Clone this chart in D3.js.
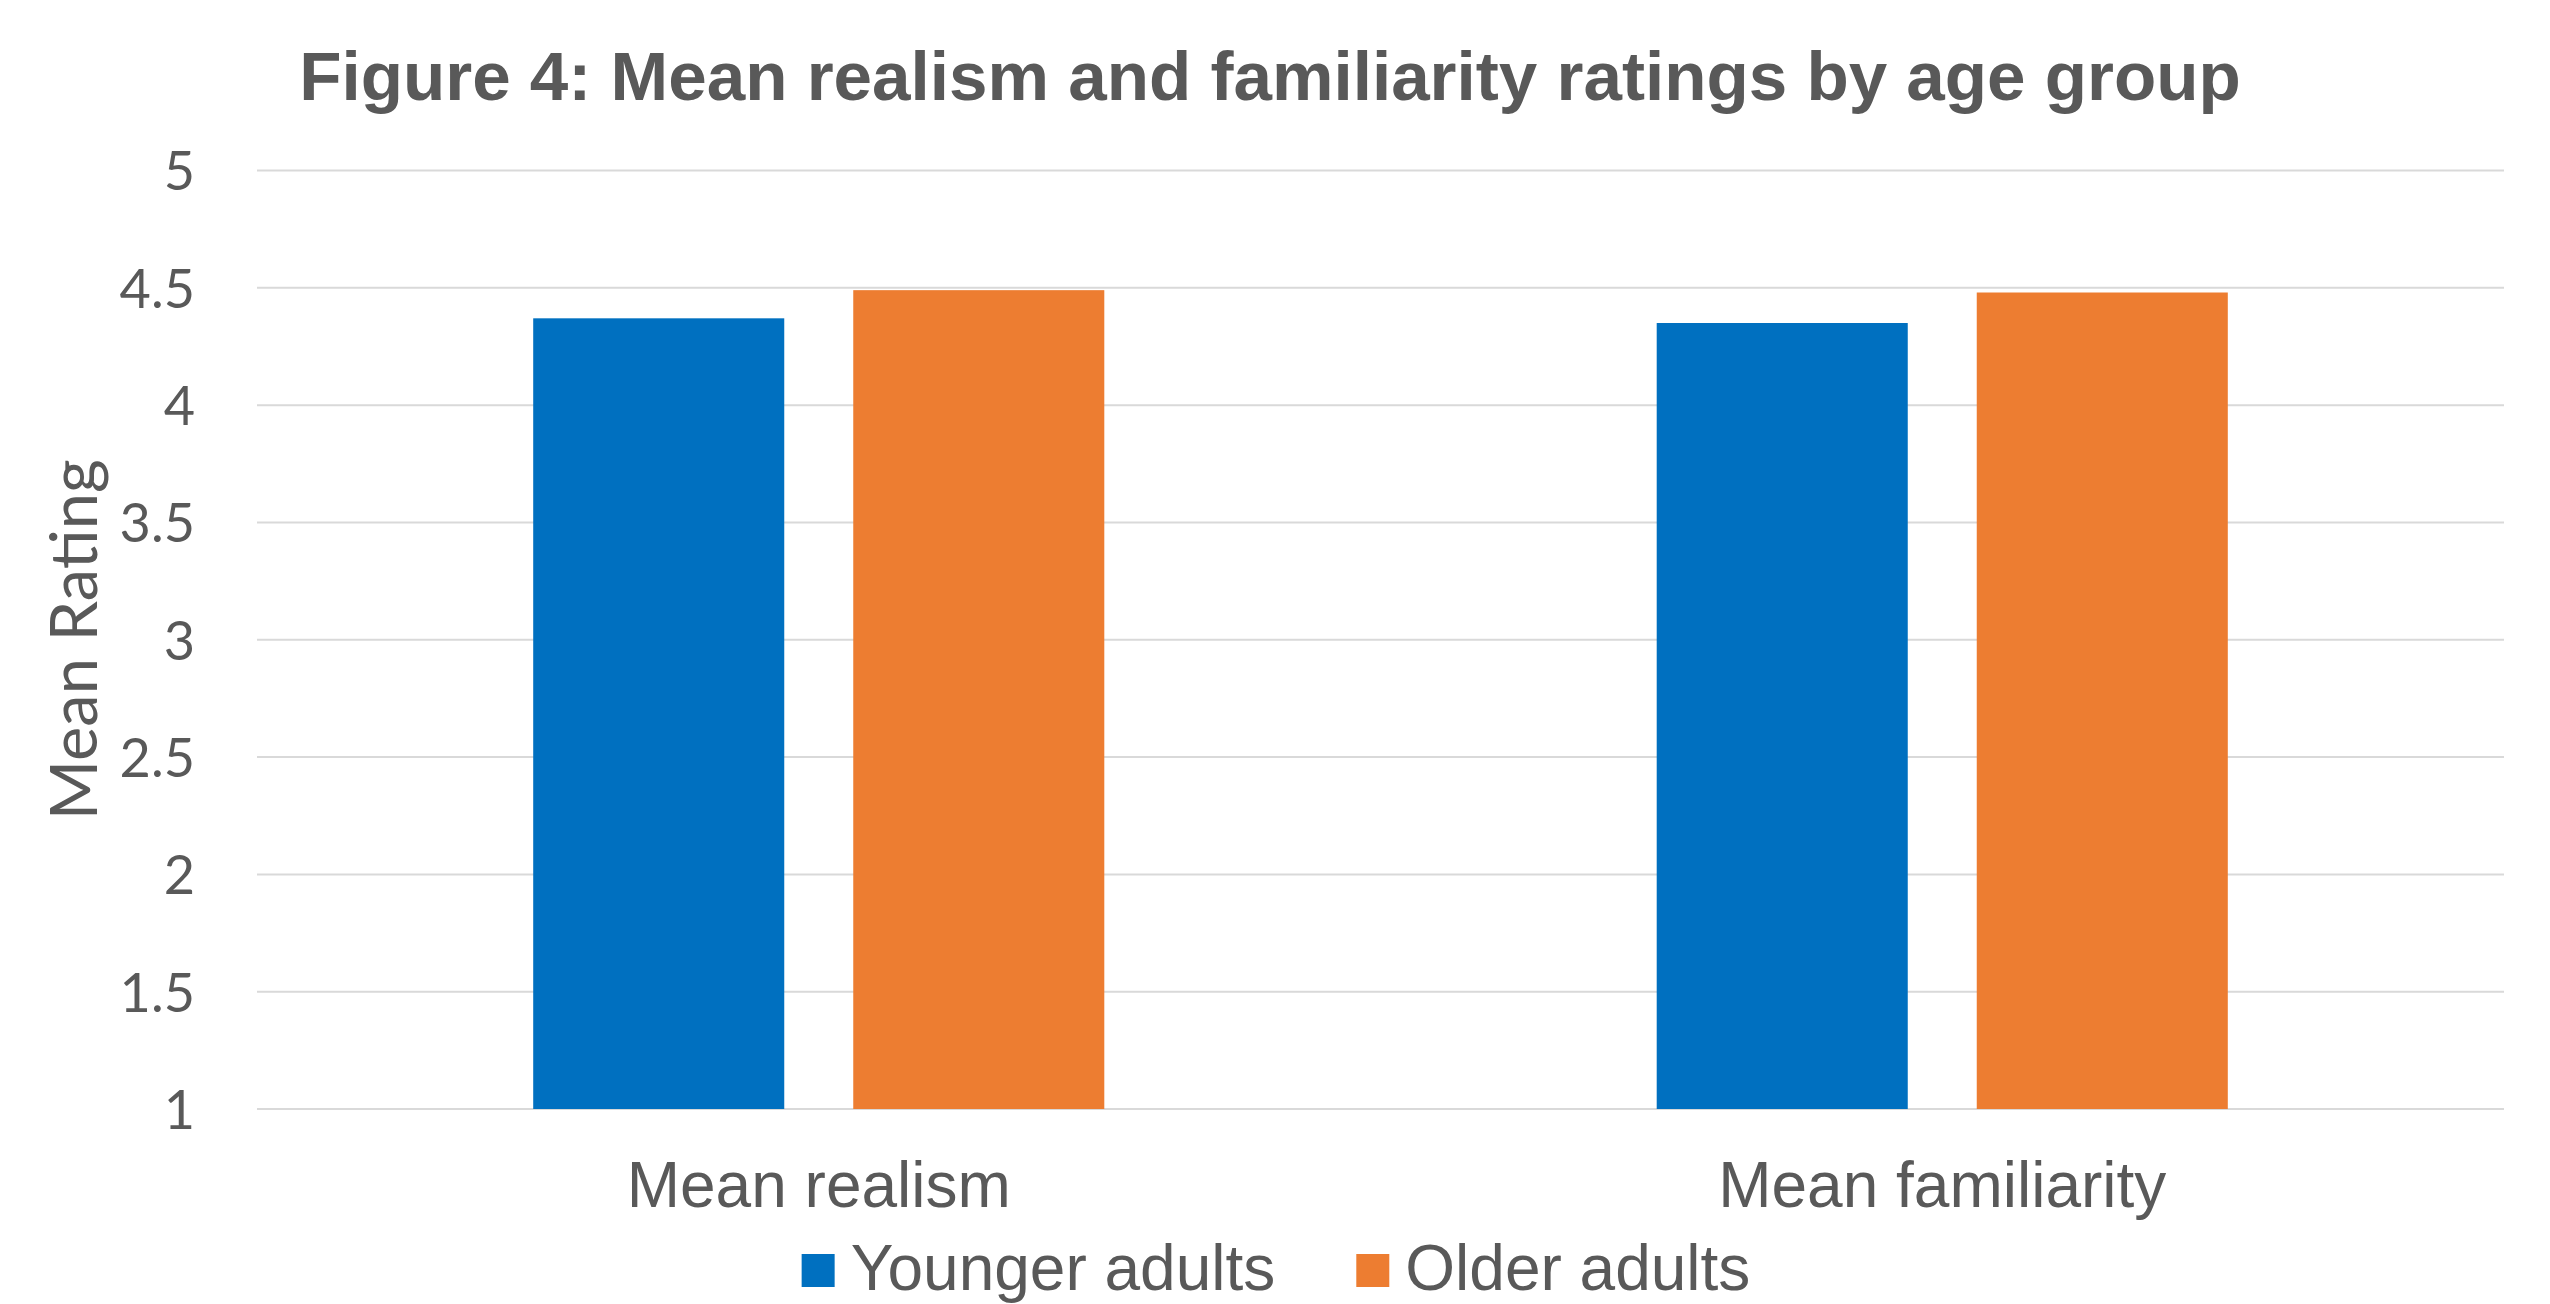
<!DOCTYPE html>
<html>
<head>
<meta charset="utf-8">
<script src="https://cdn.jsdelivr.net/npm/d3@7"></script>
<style>
  html, body { margin: 0; padding: 0; background: #fff; }
  svg { display: block; }
</style>
</head>
<body>
<div id="chart"></div>
<script>
(function (d3) {
    'use strict';

    // data
    var categories = ['Mean realism', 'Mean familiarity'];
    var series = ['Younger adults', 'Older adults'];
    var younger = [4.37, 4.35];
    var older = [4.49, 4.48];
    var yTicks = [1, 1.5, 2, 2.5, 3, 3.5, 4, 4.5, 5];
    var colors = ['#0070C0', '#ED7D31'];

    var W = 2550, H = 1304,
        left = 257, right = 2504, top = 170.5, bottom = 1109,
        textColor = '#595959';

    var rows = categories.map(function (c, i) {
        return { cat: c, values: [younger[i], older[i]] };
    });

    var svg = d3.select('#chart').append('svg')
        .attr('width', W)
        .attr('height', H);

    var x = d3.scaleBand().domain(categories).range([left, right]);
    var xs = d3.scaleBand().domain(series)
        .range([0, x.bandwidth()])
        .paddingInner(0.2156)
        .paddingOuter(0.863);
    var y = d3.scaleLinear().domain([1, 5]).range([bottom, top]);

    // gridlines
    svg.append('g')
        .selectAll('line')
        .data(yTicks)
        .enter()
        .append('line')
        .attr('x1', left).attr('x2', right)
        .attr('y1', function (d) { return y(d); })
        .attr('y2', function (d) { return y(d); })
        .attr('stroke', '#d9d9d9')
        .attr('stroke-width', 2);

    // y tick labels
    var yAxis = svg.append('g')
        .attr('transform', 'translate(' + (left - 62) + ',0)')
        .call(d3.axisLeft(y).tickValues(yTicks).tickSize(0).tickPadding(0)
            .tickFormat(d3.format('')));
    yAxis.select('.domain').remove();
    yAxis.selectAll('text')
        .attr('fill', textColor)
        .attr('font-family', 'Lato, sans-serif')
        .attr('font-size', 54)
        .attr('dy', '0.36em');

    // bars
    var groups = svg.append('g')
        .selectAll('g')
        .data(rows)
        .enter()
        .append('g')
        .attr('transform', function (d) { return 'translate(' + x(d.cat) + ',0)'; });

    groups.selectAll('rect')
        .data(function (d) {
            return d.values.map(function (v, i) { return { s: series[i], v: v, i: i }; });
        })
        .enter()
        .append('rect')
        .attr('x', function (d) { return xs(d.s); })
        .attr('width', xs.bandwidth())
        .attr('y', function (d) { return y(d.v); })
        .attr('height', function (d) { return y(1) - y(d.v); })
        .attr('fill', function (d) { return colors[d.i]; });

    // category labels
    var xAxis = svg.append('g')
        .attr('transform', 'translate(0,' + bottom + ')')
        .call(d3.axisBottom(x).tickSize(0).tickPadding(0));
    xAxis.select('.domain').remove();
    xAxis.selectAll('text')
        .attr('fill', textColor)
        .attr('font-family', '"Liberation Sans", Arial, sans-serif')
        .attr('font-size', 64)
        .attr('dy', null)
        .attr('y', 98);

    // y axis title
    svg.append('text')
        .attr('transform', 'translate(97,' + ((top + bottom) / 2) + ') rotate(-90)')
        .attr('text-anchor', 'middle')
        .attr('fill', textColor)
        .attr('font-family', 'Lato, sans-serif')
        .attr('font-size', 65)
        .text('Mean Rating');

    // title
    svg.append('text')
        .attr('x', 1270)
        .attr('y', 100)
        .attr('text-anchor', 'middle')
        .attr('fill', textColor)
        .attr('font-family', '"Liberation Sans", Arial, sans-serif')
        .attr('font-weight', 'bold')
        .attr('font-size', 69.2)
        .text('Figure 4: Mean realism and familiarity ratings by age group');

    // legend (kept just inside the bottom edge so descenders show)
    var legend = svg.append('g');
    var box = 33, boxGap = 16, itemGap = 81, cursor = 0, base = 1290;
    series.forEach(function (s, i) {
        var item = legend.append('g').attr('transform', 'translate(' + cursor + ',0)');
        item.append('rect')
            .attr('x', 0).attr('y', base - 36)
            .attr('width', box).attr('height', box)
            .attr('fill', colors[i]);
        var t = item.append('text')
            .attr('x', box + boxGap)
            .attr('y', base)
            .attr('fill', textColor)
            .attr('font-family', '"Liberation Sans", Arial, sans-serif')
            .attr('font-size', 64)
            .text(s);
        cursor += box + boxGap + t.node().getComputedTextLength() + itemGap;
    });
    var legendWidth = cursor - itemGap;
    legend.attr('transform', 'translate(' + (1276 - legendWidth / 2) + ',0)');

})(d3);
</script>
</body>
</html>
